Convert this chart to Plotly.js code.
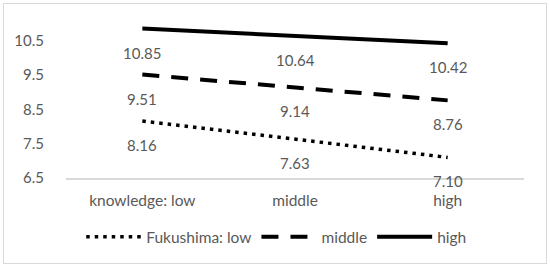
<!DOCTYPE html>
<html><head><meta charset="utf-8">
<script src="https://cdn.plot.ly/plotly-3.0.1.min.js"></script>
<style>html,body{margin:0;padding:0;background:#fff;}#frame{position:absolute;left:3px;top:3px;width:542px;height:259px;border:1px solid #d9d9d9;pointer-events:none;}</style>
</head><body>
<div id="chart" style="width:550px;height:267px;"></div>
<div id="frame"></div>
<script>
var categories = ["knowledge: low", "middle", "high"];
var seriesNames = ["Fukushima: low", "middle", "high"];
var lowValues = [8.16, 7.63, 7.10];
var middleValues = [9.51, 9.14, 8.76];
var highValues = [10.85, 10.64, 10.42];
var yTicks = [6.5, 7.5, 8.5, 9.5, 10.5];

var series = [lowValues, middleValues, highValues];
var dashes = ["3.5px,5px", "17px,12px", "solid"];
var widths = [3.5, 4, 4];
var traces = series.map(function(vals, i){
  return {x: categories, y: vals, type: "scatter", mode: "lines", name: seriesNames[i],
    line: {color: "#000", width: widths[i], dash: dashes[i]}, hoverinfo: "none"};
});
var annotations = [];
series.forEach(function(vals){
  vals.forEach(function(v, j){
    annotations.push({x: categories[j], y: v, xref: "x", yref: "y", text: v.toFixed(2),
      showarrow: false, yshift: -24, font: {family: "Lato, sans-serif", size: 15, color: "#595959"}});
  });
});
var layout = {
  width: 550, height: 267,
  margin: {l: 66, r: 26, t: 20, b: 89},
  paper_bgcolor: "#fff", plot_bgcolor: "#fff",
  font: {family: "Lato, sans-serif", size: 15, color: "#595959"},
  xaxis: {type: "category", showgrid: false, zeroline: false, showline: true, linecolor: "#d9d9d9", linewidth: 1.5,
    ticks: "", ticklabelstandoff: 8, tickfont: {size: 15.5, color: "#595959"}, range: [-0.5, 2.5]},
  yaxis: {range: [6.5, 11.1], tickvals: yTicks, ticktext: yTicks.map(function(t){return t.toFixed(1);}),
    showgrid: false, zeroline: false, showline: false, ticks: "", ticklabelstandoff: 21,
    tickfont: {size: 15, color: "#595959"}},
  showlegend: true,
  legend: {orientation: "h", x: 0.459, xanchor: "center", y: -0.375, yanchor: "middle",
    font: {size: 15.5, color: "#595959"}, itemwidth: 55, traceorder: "normal"},
  annotations: annotations
};
Plotly.newPlot("chart", traces, layout, {staticPlot: true, displayModeBar: false});
</script>
</body></html>
